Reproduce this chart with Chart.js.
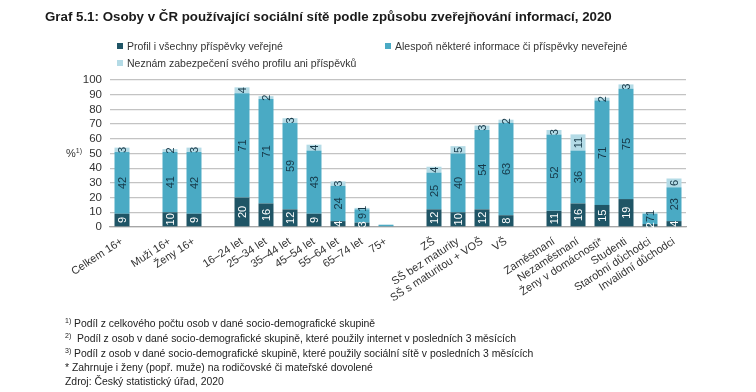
<!DOCTYPE html>
<html><head><meta charset="utf-8">
<script src="https://cdn.jsdelivr.net/npm/chart.js@4"></script>
<style>
html,body{margin:0;padding:0;background:#fff;}
#wrap{position:relative;width:756px;height:392px;overflow:hidden;font-family:"Liberation Sans",Arial,sans-serif;color:#222;}
#c{position:absolute;left:0;top:0;}
#title{position:absolute;left:45px;top:9px;font-weight:bold;font-size:13.3px;color:#1a1a1a;white-space:nowrap;}
.lg{position:absolute;font-size:10.5px;white-space:nowrap;color:#333;}
.lg i{display:inline-block;width:6px;height:6px;margin-right:4px;vertical-align:1px;}
.fn{position:absolute;left:65px;font-size:10.4px;white-space:nowrap;color:#222;}
.fn sup{font-size:7px;vertical-align:4px;}
#ytitle{position:absolute;left:66px;top:147px;font-size:11px;color:#333;}
#ytitle sup{font-size:7px;vertical-align:4px;}
</style></head>
<body><div id="wrap">
<canvas id="c" width="756" height="392"></canvas>
<div id="title">Graf 5.1: Osoby v ČR používající sociální sítě podle způsobu zveřejňování informací, 2020</div>
<div id="legend"></div>
<div id="ytitle">%<sup>1)</sup></div>
<div class="fn" style="top:317px"><sup>1)</sup> Podíl z celkového počtu osob v dané socio-demografické skupině</div>
<div class="fn" style="top:332px"><sup>2)</sup>&nbsp; Podíl z osob v dané socio-demografické skupině, které použily internet v posledních 3 měsících</div>
<div class="fn" style="top:347px"><sup>3)</sup> Podíl z osob v dané socio-demografické skupině, které použily sociální sítě v posledních 3 měsících</div>
<div class="fn" style="top:362px">* Zahrnuje i ženy (popř. muže) na rodičovské či mateřské dovolené</div>
<div class="fn" style="top:376px">Zdroj: Český statistický úřad, 2020</div>
</div>
<script>
const categories = ['Celkem 16+','', 'Muži 16+','Ženy 16+','', '16–24 let','25–34 let','35–44 let','45–54 let','55–64 let','65–74 let','75+','', 'ZŠ','SŠ bez maturity','SŠ s maturitou + VOŠ','VŠ','', 'Zaměstnaní','Nezaměstnaní','Ženy v domácnosti*','Studenti','Starobní důchodci','Invalidní důchodci'];
const seriesNames = ['Profil i všechny příspěvky veřejné','Alespoň některé informace či příspěvky neveřejné','Neznám zabezpečení svého profilu ani příspěvků'];
const publicAll   = [9,null,10,9,null,20,16,12,9,4,3,0.5,null,12,10,12,8,null,11,16,15,19,2,4];
const somePrivate = [42,null,41,42,null,71,71,59,43,24,9,0.9,null,25,40,54,63,null,52,36,71,75,7,23];
const unknown     = [3,null,2,3,null,4,2,3,4,3,1,0.4,null,4,5,3,2,null,3,11,2,3,1,6];
const yTicks = [0,10,20,30,40,50,60,70,80,90,100];

const colors = ['#1f5566','#4aaac4','#b4dbe6'];
const labelColors = ['#ffffff','#163848','#163848'];
const FONT = '"Liberation Sans", Arial, sans-serif';

const barLabels = {
  id:'barLabels',
  afterDatasetsDraw(chart){
    const ctx = chart.ctx;
    chart.data.datasets.forEach((ds,di)=>{
      const meta = chart.getDatasetMeta(di);
      meta.data.forEach((el,i)=>{
        const v = ds.data[i];
        if(v==null || v<1) return;
        const p = el.getProps(['x','y','base'],true);
        const cy = (p.y+p.base)/2;
        ctx.save();
        ctx.translate(p.x, cy);
        ctx.rotate(-Math.PI/2);
        ctx.font = '11px '+FONT;
        ctx.fillStyle = labelColors[di];
        ctx.textAlign='center';
        ctx.textBaseline='middle';
        ctx.fillText(String(v),0,0.5);
        ctx.restore();
      });
    });
  }
};

const chart = new Chart(document.getElementById('c'),{
  type:'bar',
  data:{
    labels:categories,
    datasets:[
      {label:seriesNames[0],data:publicAll,backgroundColor:colors[0]},
      {label:seriesNames[1],data:somePrivate,backgroundColor:colors[1]},
      {label:seriesNames[2],data:unknown,backgroundColor:colors[2]}
    ]
  },
  options:{
    responsive:false,
    animation:false,
    devicePixelRatio:1,
    layout:{padding:{left:0,top:80,right:70,bottom:0}},
    datasets:{bar:{barPercentage:0.9,categoryPercentage:0.694,borderWidth:0}},
    plugins:{legend:{display:false},tooltip:{enabled:false},title:{display:false}},
    scales:{
      x:{
        stacked:true,
        grid:{display:false,drawTicks:false},
        border:{display:true,color:'#a6a6a6',width:1.3},
        ticks:{autoSkip:false,minRotation:33,maxRotation:33,padding:8,color:'#333',font:{family:FONT,size:11}},
        afterFit(s){s.height=165;}
      },
      y:{
        stacked:true,min:0,max:100,
        afterBuildTicks(s){s.ticks=yTicks.map(v=>({value:v}));},
        grid:{color:'#c3c3c3',lineWidth:1.3,drawTicks:false},
        border:{display:false},
        ticks:{autoSkip:false,stepSize:10,padding:8,color:'#333',font:{family:FONT,size:11.5}},
        afterFit(s){s.width=110;}
      }
    }
  },
  plugins:[barLabels]
});

// HTML legend built from chart datasets
const legendPos = [[117,40],[385,40],[117,57]];
const lg = document.getElementById('legend');
chart.data.datasets.forEach((ds,i)=>{
  const d = document.createElement('div');
  d.className='lg';
  d.style.left=legendPos[i][0]+'px';
  d.style.top=legendPos[i][1]+'px';
  d.innerHTML='<i style="background:'+ds.backgroundColor+'"></i>'+ds.label;
  lg.appendChild(d);
});
</script>
</body></html>
